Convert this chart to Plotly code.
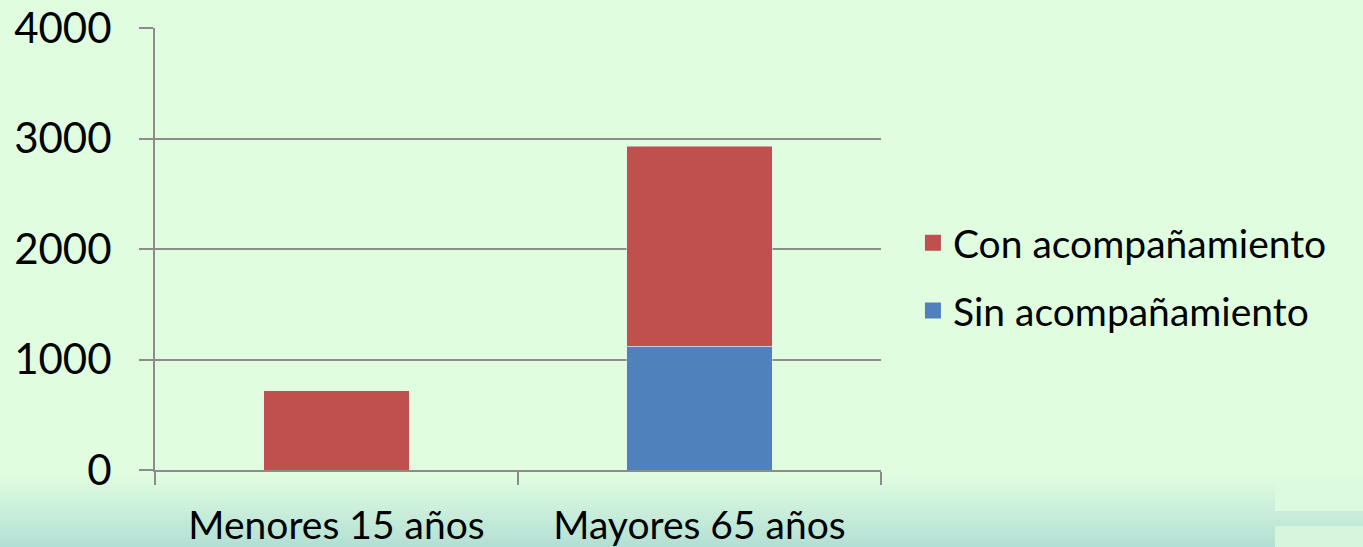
import plotly.graph_objects as go

# data
categorias = ['Menores 15 años', 'Mayores 65 años']
sin_acomp = [0, 1122]
con_acomp = [715, 1810]
y_ticks = [0, 1000, 2000, 3000, 4000]

ROJO = '#c0504d'
AZUL = '#4f81bd'

W, H = 1363, 547
L, R, T, B = 155, 881, 28, 470

fig = go.Figure()
fig.add_trace(go.Bar(x=categorias, y=sin_acomp, name='Sin acompañamiento',
                     marker_color=AZUL, width=0.4, showlegend=False))
fig.add_trace(go.Bar(x=categorias, y=con_acomp, name='Con acompañamiento',
                     marker_color=ROJO, width=0.4, showlegend=False))
# legend entries with bigger square swatches (Con on top)
fig.add_trace(go.Scatter(x=[None], y=[None], mode='markers', name='Con acompañamiento',
                         marker=dict(symbol='square', size=25, color=ROJO),
                         legendgroup='con'))
fig.add_trace(go.Scatter(x=[None], y=[None], mode='markers', name='Sin acompañamiento',
                         marker=dict(symbol='square', size=25, color=AZUL),
                         legendgroup='sin'))

# bottom gradient band of the slide background
def px2paper(py):
    return (B - py) / (B - T)

top_c = (224, 252, 224)
bot_c = (179, 224, 212)
n = 24
y0 = 475
shapes = []
for i in range(n):
    f = i / (n - 1)
    c = tuple(round(top_c[k] + (bot_c[k] - top_c[k]) * f) for k in range(3))
    ya = y0 + (H - y0) * i / n
    yb = y0 + (H - y0) * (i + 1) / n + 1
    shapes.append(dict(type='rect', xref='paper', yref='paper', layer='below',
                       x0=-L / (R - L), x1=(W - L) / (R - L),
                       y0=px2paper(yb), y1=px2paper(ya),
                       line_width=0, fillcolor='rgb(%d,%d,%d)' % c))
# two small lighter boxes bottom right
for (a, b, col) in [(481, 511, '#dcfadf'), (526, 547, '#d5f5dc')]:
    shapes.append(dict(type='rect', xref='paper', yref='paper', layer='below',
                       x0=(1275 - L) / (R - L), x1=(W - L) / (R - L),
                       y0=px2paper(b), y1=px2paper(a),
                       line_width=0, fillcolor=col))

fig.update_layout(
    width=W, height=H,
    margin=dict(l=L, r=W - R, t=T, b=H - B, pad=0, autoexpand=False),
    barmode='stack',
    paper_bgcolor='#e0fde0', plot_bgcolor='#e0fde0',
    font=dict(family='Lato', color='black', size=38),
    showlegend=True,
    legend=dict(x=1.044, y=0.437, yanchor='middle', xanchor='left',
                traceorder='grouped', font=dict(size=39),
                tracegroupgap=14, bgcolor='rgba(0,0,0,0)'),
    shapes=shapes,
    xaxis=dict(showline=True, linecolor='#8c8c8c', linewidth=2,
               ticks='outside', ticklen=13, tickcolor='#8c8c8c', tickwidth=2,
               tickson='boundaries', showgrid=False, automargin=False,
               tickfont=dict(size=39), ticklabelstandoff=20),
    yaxis=dict(range=[0, 4000], tickvals=y_ticks, showline=True,
               linecolor='#8c8c8c', linewidth=2, ticks='outside', ticklen=14,
               tickcolor='#8c8c8c', tickwidth=2, showgrid=True,
               gridcolor='#8c8c8c', gridwidth=2, zeroline=False, automargin=False,
               tickfont=dict(size=42), ticklabelstandoff=19),
)

fig.write_html('out.html', config={'displayModeBar': False},
               post_script="document.body.style.margin='0px';")
